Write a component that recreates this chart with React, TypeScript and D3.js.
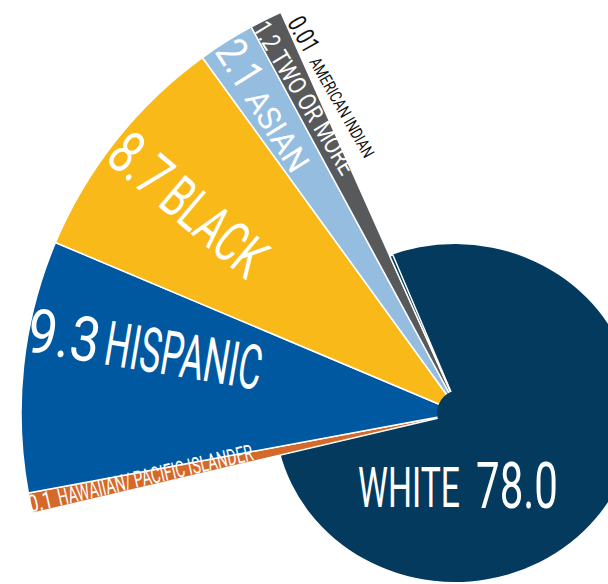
import { useEffect } from "react";
import * as d3 from "d3";

// share of population, percent
const groups = ["HAWAIIAN/ PACIFIC ISLANDER", "HISPANIC", "BLACK", "ASIAN", "TWO OR MORE", "AMERICAN INDIAN", "WHITE"];
const shares = [0.1, 9.3, 8.7, 2.1, 1.2, 0.01, 78.0];
const shareText = ["0.1", "9.3", "8.7", "2.1", "1.2", "0.01", "78.0"];
const colors = ["#d5692a", "#0059a0", "#f9b918", "#95bde0", "#58595b", "#033a5e", "#033a5e"];

const W = 608;
const H = 584;
const cx = 460;
const cy = 413;
const rBig = 439;
const rWhite = 169;
const navy = "#033a5e";
const font = "Roboto, 'Liberation Sans', sans-serif";

// tiny slices get a visible sliver
const visibleShare = (v: number) => (v >= 1 ? v : Math.max(v, 0.25 + v * 5));

// label placement: start radius, angle offset from slice middle, tilt from radial
const labelSpec = [
  { r: 441, da: 0.45, tilt: -1.8, dy: 4, nSize: 24, nLen: 24, wSize: 23, wLen: 200, gap: 6, fill: "#fff" },
  { r: 440, da: 4.8, tilt: -1.5, dy: 0, nSize: 62, nLen: 73, wSize: 62, wLen: 158, gap: 6, fill: "#fff" },
  { r: 436, da: -0.3, tilt: 2, dy: 0, nSize: 60, nLen: 62, wSize: 58, wLen: 118, gap: 7, fill: "#fff" },
  { r: 437, da: 0, tilt: 0, dy: 0, nSize: 44, nLen: 48, wSize: 32, wLen: 90, gap: 8, fill: "#fff" },
  { r: 438, da: -0.9, tilt: -4, dy: 0, nSize: 26, nLen: 28, wSize: 25, wLen: 140, gap: 6, fill: "#fff" },
  { r: 428, da: 0.85, tilt: -7, dy: 0, nSize: 26, nLen: 37, wSize: 17, wLen: 112, gap: 8, fill: "#111" },
];

// condensed big label inside the white slice
function Squeezed({ x, y, size, width, squeeze, children }: any) {
  return (
    <g transform={`translate(${x},${y}) scale(${squeeze},1)`}>
      <text fill="#fff" fontFamily={font} fontSize={size} textLength={width / squeeze} lengthAdjust="spacingAndGlyphs">
        {children}
      </text>
    </g>
  );
}

export default function App() {
  useEffect(() => {
    document.body.style.margin = "0";
  }, []);

  const start = (-103.2 * Math.PI) / 180;
  const pie = d3
    .pie<number>()
    .sort(null)
    .value((d) => visibleShare(d))
    .startAngle(start)
    .endAngle(start + 2 * Math.PI);
  const arcs = pie(shares);

  const outer = (i: number) => (groups[i] === "WHITE" ? rWhite : groups[i] === "AMERICAN INDIAN" ? rWhite + 3 : rBig);
  const arc = d3
    .arc<d3.PieArcDatum<number>>()
    .innerRadius(0)
    .outerRadius((d) => outer(d.index));

  const white = arcs[6];
  const minors = arcs.slice(0, 6);

  return (
    <svg width={W} height={H} style={{ display: "block" }}>
      {/* the big slice is drawn a little wider than tall, as in the print */}
      <g transform={`translate(${cx - 5},${cy}) scale(1.065,1)`}>
        <path d={arc(white) || ""} fill={colors[6]} />
      </g>
      <g transform={`translate(${cx},${cy})`}>
        {minors.map((d, i) => (
          <path key={i} d={arc(d) || ""} fill={colors[i]} stroke="#fff" strokeWidth={1.5} strokeLinejoin="round" />
        ))}
        <circle r={23} fill={navy} />
        {minors.map((d, i) => {
          const s = labelSpec[i];
          const theta = ((d.startAngle + d.endAngle) / 2) * (180 / Math.PI) + s.da;
          const t = (theta * Math.PI) / 180;
          const px = s.r * Math.sin(t);
          const py = -s.r * Math.cos(t);
          const mid = Math.max(s.nSize, s.wSize) * 0.355 + s.dy;
          return (
            <g
              key={"l" + i}
              transform={`translate(${px},${py}) rotate(${theta + 90 + s.tilt})`}
              fill={s.fill}
              fontFamily={font}
            >
              <text x={0} y={mid} fontSize={s.nSize} textLength={s.nLen} lengthAdjust="spacingAndGlyphs">
                {shareText[i]}
              </text>
              <text x={s.nLen + s.gap} y={mid} fontSize={s.wSize} textLength={s.wLen} lengthAdjust="spacingAndGlyphs">
                {groups[i]}
              </text>
            </g>
          );
        })}
      </g>
      <Squeezed x={358} y={507} size={56} width={102} squeeze={0.6}>
        {groups[6]}
      </Squeezed>
      <Squeezed x={476} y={508} size={64} width={82} squeeze={0.66}>
        {shareText[6]}
      </Squeezed>
    </svg>
  );
}
